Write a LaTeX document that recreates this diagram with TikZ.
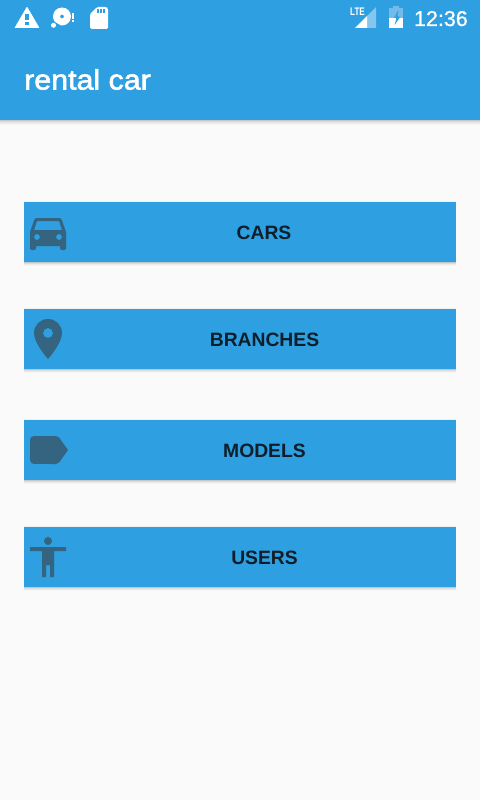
\documentclass[tikz,border=0pt]{standalone}
\usepackage{fontspec}
\setmainfont{Liberation Sans}
\newfontfamily\titlefont[RawFeature={embolden=2}]{Liberation Sans}
\newfontfamily\clockfont[RawFeature={embolden=0.8}]{Liberation Sans}
\usetikzlibrary{svg.path}
\definecolor{appblue}{HTML}{2E9FE0}
\definecolor{pagebg}{HTML}{FAFAFA}
\definecolor{iconcol}{HTML}{34647F}
\definecolor{lightsig}{HTML}{86C6EE}
\definecolor{lightbatt}{HTML}{72BBEA}
\definecolor{btntext}{HTML}{0E1F2B}
\tikzset{
  x=1pt,y=-1pt,
  btn/.style={draw=none,fill=appblue,minimum width=432pt,minimum height=60pt,inner sep=0pt,anchor=north west},
  btnlabel/.style={text=btntext,font=\fontsize{19.3}{20}\selectfont\bfseries,inner sep=0pt},
  iconat/.style 2 args={shift={(#1pt,-#2pt)},yscale=-1,scale=2,fill=iconcol,even odd rule},
}
\newcommand{\btnshadow}[1]{%
  \fill[black!6] (24,#1-1) rectangle (456,#1);
  \fill[black!22] (24,#1+60) rectangle (456,#1+61);
  \fill[black!14] (24,#1+61) rectangle (456,#1+62);
  \fill[black!8] (24,#1+62) rectangle (456,#1+63);
  \fill[black!4] (24,#1+63) rectangle (456,#1+64);
  \fill[black!2] (24,#1+64) rectangle (456,#1+65);
}
\begin{document}
\begin{tikzpicture}
\useasboundingbox (0,0) rectangle (480,800);
\fill[pagebg] (0,0) rectangle (480,800);
% header shadow
\fill[black!22] (0,120) rectangle (480,121);
\fill[black!15] (0,121) rectangle (480,122);
\fill[black!10] (0,122) rectangle (480,123);
\fill[black!7] (0,123) rectangle (480,124);
\fill[black!4] (0,124) rectangle (480,125);
\fill[black!2] (0,125) rectangle (480,128);
\node[fill=appblue,minimum width=480pt,minimum height=120pt,inner sep=0pt,anchor=north west] (header) at (0,0) {};
\node[text=white,font=\fontsize{28}{29}\selectfont\titlefont,anchor=base west,inner sep=0pt,xscale=1.085] (title) at (24,89.5) {rental car};
% status bar left
\fill[white,rounded corners=.6pt] (27,6.5) -- (39.5,28) -- (14.5,28) -- cycle;
\fill[appblue] (25.2,14) rectangle (28.8,20.5);
\fill[appblue] (25.2,22) rectangle (28.8,25);
\fill[white,even odd rule] (62,16.5) circle[radius=9] (62,16.5) circle[radius=2];
\fill[appblue] (53,21) -- (60,25) -- (52,30) -- cycle;
\fill[white] (53.5,25.3) circle[radius=2.5];
\fill[white] (72.2,13.5) rectangle (73.8,19.5);
\fill[white] (72.2,20.5) rectangle (73.8,22);
\fill[white,rounded corners=1.5pt] (97,7) -- (106.5,7) -- (108,8.5) -- (108,29) -- (90,29) -- (90,14) -- cycle;
\fill[appblue] (97,9) rectangle (99,13);
\fill[appblue] (100,9) rectangle (102,13);
\fill[appblue] (103,9) rectangle (105,13);
% status bar right
\fill[lightsig] (355,28) -- (376,28) -- (376,7) -- cycle;
\fill[white] (355,28) -- (367,28) -- (367,16) -- cycle;
\node[text=white,font=\fontsize{11}{11}\selectfont\bfseries,anchor=base west,inner sep=0pt,xscale=.74] (lte) at (350,15.5) {LTE};
\fill[lightbatt] (393,6) rectangle (399,8);
\fill[lightbatt] (389,8) rectangle (403,18);
\fill[white] (389,18) rectangle (403,28);
\fill[appblue] (398,10.5) -- (394,18) -- (400,18) -- (397.5,15.5) -- (398.5,11) -- cycle;
\fill[appblue] (396,18) -- (399.5,18) -- (394.5,25) -- (396,20) -- cycle;
\node[text=white,font=\fontsize{21.5}{22}\selectfont\clockfont,anchor=base east,inner sep=0pt] (clock) at (468,26) {12:36};
% buttons
\btnshadow{202}\btnshadow{309}\btnshadow{420}\btnshadow{527}
\node[btn] (cars) at (24,202) {};
\node[btn] (branches) at (24,309) {};
\node[btn] (models) at (24,420) {};
\node[btn] (users) at (24,527) {};
\node[btnlabel] (carslabel) at (264,232.5) {CARS};
\node[btnlabel] (brancheslabel) at (264.5,339.5) {BRANCHES};
\node[btnlabel] (modelslabel) at (264.5,450.5) {MODELS};
\node[btnlabel] (userslabel) at (264.5,557.5) {USERS};
% icons
\fill[iconat={24}{208}] svg {M 18.92 6.01 C 18.72 5.42 18.16 5 17.5 5 H 6.5 C 5.84 5 5.29 5.42 5.08 6.01 L 3 12 V 20 C 3 20.55 3.45 21 4 21 H 5 C 5.55 21 6 20.55 6 20 V 19 H 18 V 20 C 18 20.55 18.45 21 19 21 H 20 C 20.55 21 21 20.55 21 20 V 12 Z M 6.5 16 C 5.67 16 5 15.33 5 14.5 C 5 13.67 5.67 13 6.5 13 C 7.33 13 8 13.67 8 14.5 C 8 15.33 7.33 16 6.5 16 Z M 17.5 16 C 16.67 16 16 15.33 16 14.5 C 16 13.67 16.67 13 17.5 13 C 18.33 13 19 13.67 19 14.5 C 19 15.33 18.33 16 17.5 16 Z M 5 11 L 6.5 6.5 H 17.5 L 19 11 Z};
\fill[iconat={24}{315}] svg {M 12 2 C 8.13 2 5 5.13 5 9 C 5 14.25 12 22 12 22 C 12 22 19 14.25 19 9 C 19 5.13 15.87 2 12 2 Z M 12 11.5 C 10.62 11.5 9.5 10.38 9.5 9 C 9.5 7.62 10.62 6.5 12 6.5 C 13.38 6.5 14.5 7.62 14.5 9 C 14.5 10.38 13.38 11.5 12 11.5 Z};
\fill[iconat={24}{426}] svg {M 17.63 5.84 C 17.27 5.33 16.67 5 16 5 L 5 5.01 C 3.9 5.01 3 5.9 3 7 V 17 C 3 18.1 3.9 18.99 5 18.99 L 16 19 C 16.67 19 17.27 18.67 17.63 18.16 L 22 12 Z};
\fill[iconat={24}{533}] svg {M 12 2 C 13.1 2 14 2.9 14 4 C 14 5.1 13.1 6 12 6 C 10.9 6 10 5.1 10 4 C 10 2.9 10.9 2 12 2 Z M 21 9 H 15 V 22 H 13 V 16 H 11 V 22 H 9 V 9 H 3 V 7 H 21 Z};
\end{tikzpicture}
\end{document}
